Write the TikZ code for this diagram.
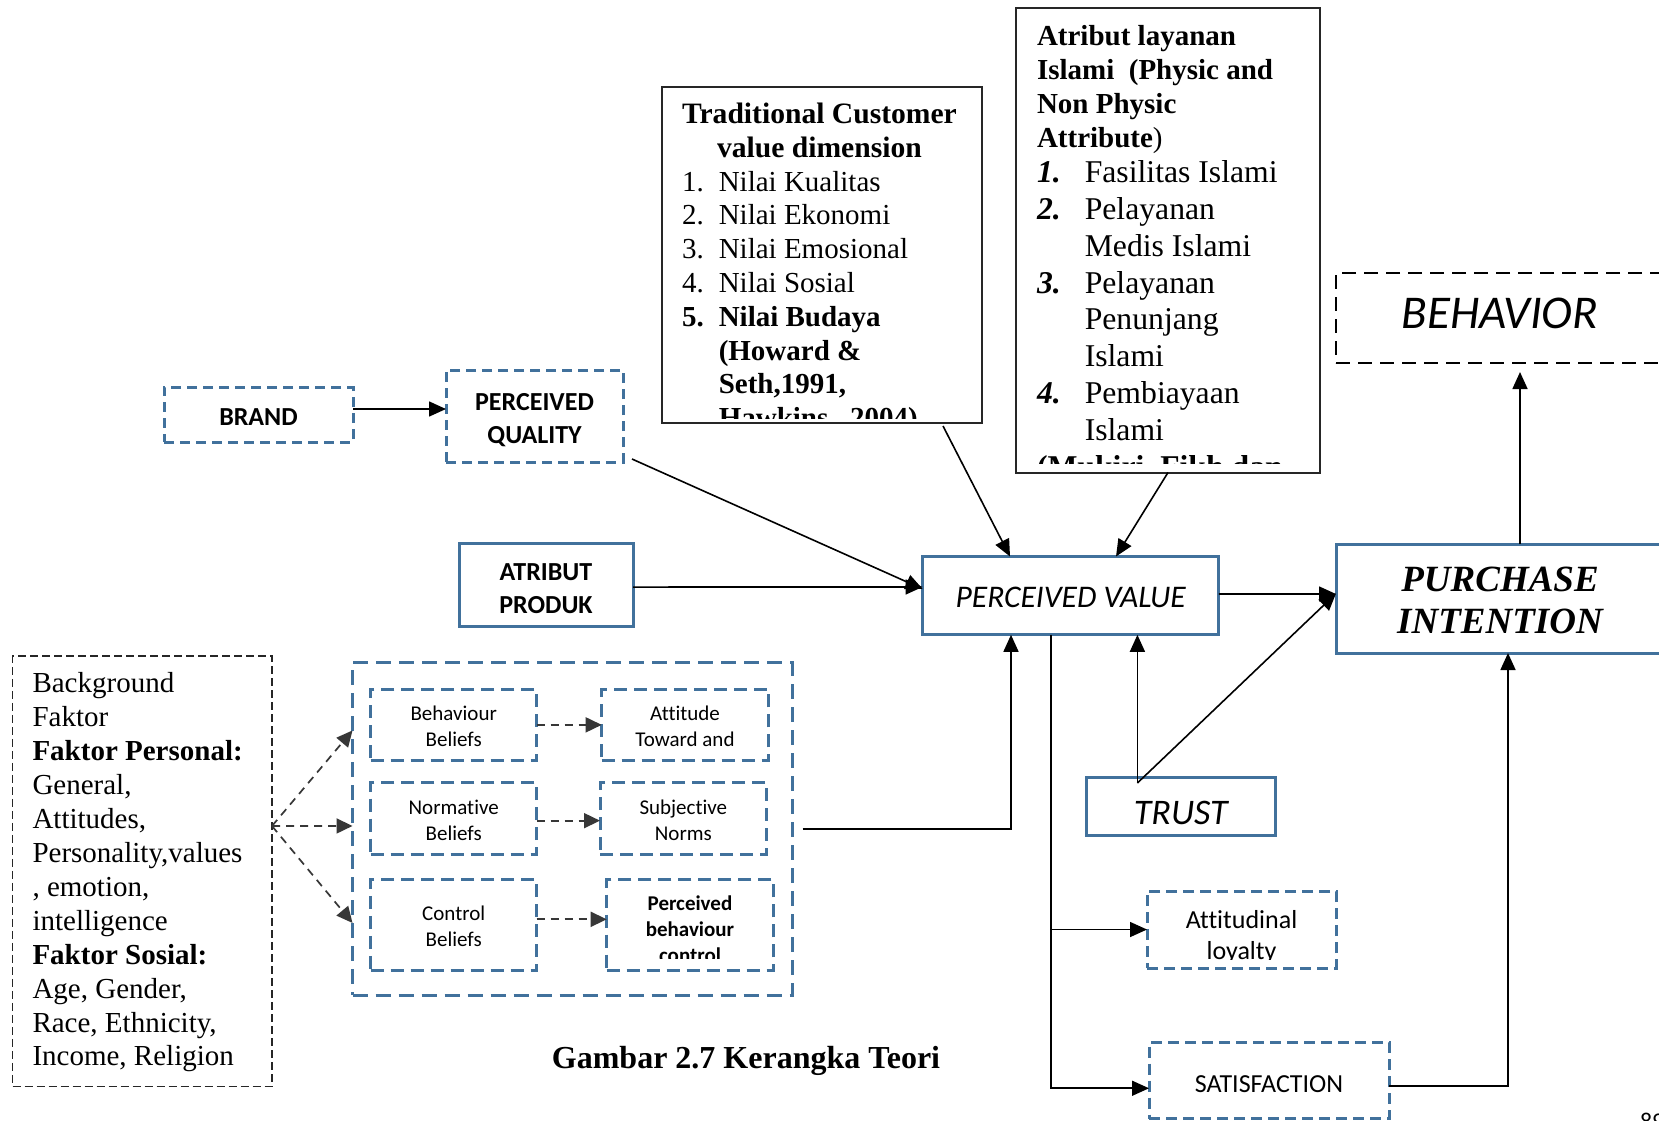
\documentclass[tikz,border=0pt]{standalone}
\usepackage{fontspec}
\setmainfont{Liberation Serif}
\newfontfamily\calibri[Ligatures=NoCommon]{Carlito}
\usetikzlibrary{arrows.meta}
\definecolor{boxblue}{RGB}{65,113,156}
\definecolor{linegray}{RGB}{55,55,55}
% centred stack of lines whose baseline is the first line
\newcommand\cstack[1]{\begin{tabular}[t]{@{}c@{}}#1\end{tabular}}
\begin{document}
\begin{tikzpicture}[x=1pt,y=-1pt,
  every node/.style={inner sep=0pt,outer sep=0pt},
  shapebox/.style={draw,anchor=north west,align=center},
  bluesolid/.style={shapebox,draw=boxblue,line width=3pt},
  bluedash/.style={shapebox,draw=boxblue,line width=3pt,dash pattern=on 12pt off 7pt},
  blackframe/.style={shapebox,draw=black!85,line width=2pt},
  conn/.style={draw=black,line width=1.6pt,-{Triangle[length=17pt,width=15pt]}},
  dconn/.style={draw=linegray,line width=1.7pt,dash pattern=on 8pt off 6pt,-{Triangle[length=16pt,width=15pt]}},
  calbold/.style={font=\calibri\bfseries\fontsize{26}{33}\selectfont},
  calsmall/.style={font=\calibri\fontsize{21}{26}\selectfont},
  txtserif/.style={font=\fontsize{29}{33.8}\selectfont},
]
\fill[white] (0,0) rectangle (1659,1120);
\useasboundingbox (0,0) rectangle (1659,1120);

% ---------- brand / quality / product attributes ----------
\node[bluedash,dash pattern=on 10pt off 6pt,minimum width=189pt,minimum height=55pt,calbold,
      text height=21pt,text depth=0pt] (brand) at (164,387) {BRAND};
\node[bluedash,dash pattern=on 10pt off 6pt,minimum width=177pt,minimum height=92pt,calbold,
      text height=0pt,text depth=11pt] (pq) at (446,370) {\cstack{PERCEIVED\\QUALITY}};
\node[bluesolid,minimum width=174pt,minimum height=82.5pt,calbold,
      text height=0pt,text depth=8pt] (ap) at (459,543.5) {\cstack{ATRIBUT\\PRODUK}};

% ---------- traditional customer value dimension ----------
\node[blackframe,minimum width=320pt,minimum height=336pt] (tcv) at (662,87) {};
\begin{scope}
  \clip (662,87) rectangle (982,418);
  \node[anchor=base west,txtserif] (tcvlist) at (682,123.5) {%
    \begin{tabular}[t]{@{}l@{\hspace{15pt}}l@{}}
      \multicolumn{2}{@{}c@{}}{\fontsize{29.6}{33.8}\selectfont\bfseries Traditional Customer}\\
      \multicolumn{2}{@{}c@{}}{\fontsize{29.6}{33.8}\selectfont\bfseries value dimension}\\
      1. & Nilai Kualitas\\
      2. & Nilai Ekonomi\\
      3. & Nilai Emosional\\
      4. & Nilai Sosial\\
      \textbf{5.} & \textbf{Nilai Budaya}\\
       & \textbf{(Howard \&}\\
       & \textbf{Seth,1991,}\\
       & \textbf{Hawkins , 2004)}
    \end{tabular}};
\end{scope}

% ---------- islamic service attributes ----------
\node[blackframe,minimum width=304pt,minimum height=465pt] (atr) at (1016,7.5) {};
\begin{scope}
  \clip (1016,7.5) rectangle (1320,463);
  \node[anchor=base west,font=\bfseries\fontsize{29}{34}\selectfont] (atrhead) at (1037,45) {%
    \begin{tabular}[t]{@{}l@{}}
      Atribut layanan\\
      Islami\ \ (Physic and\\
      Non Physic\\
      Attribute{\mdseries)}
    \end{tabular}};
  \node[anchor=base west,font=\fontsize{31.7}{36.8}\selectfont] (atrlist) at (1037,182.7) {%
    \begin{tabular}[t]{@{}l@{\hspace{24pt}}l@{}}
      \textbf{\textit{1.}} & Fasilitas Islami\\
      \textbf{\textit{2.}} & Pelayanan\\
       & Medis Islami\\
      \textbf{\textit{3.}} & Pelayanan\\
       & Penunjang\\
       & Islami\\
      \textbf{\textit{4.}} & Pembiayaan\\
       & Islami\\
      \multicolumn{2}{@{}l@{}}{\textbf{(Mukiri, Fikh dan}}
    \end{tabular}};
\end{scope}

% ---------- outcome boxes on the right ----------
\node[shapebox,draw=black,line width=2pt,dash pattern=on 14pt off 8pt,minimum width=328pt,minimum height=90pt,
      font=\calibri\itshape\fontsize{47}{56}\selectfont,text height=21.6pt,text depth=0pt] (beh) at (1336,273) {BEHAVIOR};
\node[bluesolid,minimum width=328pt,minimum height=109pt,font=\bfseries\itshape\fontsize{37}{42}\selectfont,
      text height=0pt,text depth=15pt] (pi) at (1336,544) {\cstack{PURCHASE\\INTENTION}};
\node[bluesolid,minimum width=296.2pt,minimum height=78.3pt,font=\calibri\itshape\fontsize{31.5}{38}\selectfont,
      text height=22.7pt,text depth=0pt] (pv) at (922.6,556.5) {PERCEIVED VALUE};
\node[bluesolid,minimum width=188.4pt,minimum height=58.2pt,font=\calibri\itshape\fontsize{36}{44}\selectfont,
      text height=36pt,text depth=0pt] (trust) at (1086.6,777.6) {TRUST};

\node[bluedash,dash pattern=on 11pt off 6pt,minimum width=189pt,minimum height=77pt] (att) at (1147,891) {};
\begin{scope}
  \clip (1147,891) rectangle (1336,959);
  \node[anchor=base,font=\calibri\fontsize{26}{31}\selectfont] (atttext) at (1241.5,928.5) {\cstack{Attitudinal\\loyalty}};
\end{scope}
\node[bluedash,dash pattern=on 11pt off 6pt,minimum width=240pt,minimum height=76.5pt,
      font=\calibri\fontsize{26}{31}\selectfont,text height=23.5pt,text depth=0pt] (sat) at (1149,1042) {SATISFACTION};

% ---------- background factors ----------
\node[shapebox,draw=black!85,line width=1.5pt,dash pattern=on 8pt off 4pt,minimum width=259.3pt,minimum height=430.6pt] (bg) at (12.7,656) {};
\node[anchor=base west,font=\fontsize{29}{33.95}\selectfont] (bgtext) at (32.5,692.5) {%
  \begin{tabular}[t]{@{}l@{}}
    Background\\
    Faktor\\
    \textbf{Faktor Personal:}\\
    General,\\
    Attitudes,\\
    Personality,values\\
    , emotion,\\
    intelligence\\
    \textbf{Faktor Sosial:}\\
    Age, Gender,\\
    Race, Ethnicity,\\
    Income, Religion
  \end{tabular}};

% ---------- theory of planned behaviour block ----------
\node[bluedash,dash pattern=on 15pt off 8pt,minimum width=439.5pt,minimum height=332.3pt] (tpb) at (352.5,662.7) {};
\node[bluedash,dash pattern=on 13pt off 7pt,minimum width=166pt,minimum height=71.7pt,calsmall,
      text height=0pt,text depth=9.7pt] (bb) at (370.7,689) {\cstack{Behaviour\\Beliefs}};
\node[bluedash,dash pattern=on 13pt off 7pt,minimum width=166.6pt,minimum height=71.7pt,calsmall,
      text height=0pt,text depth=9.7pt] (atb) at (601.7,689) {\cstack{Attitude\\Toward and}};
\node[bluedash,dash pattern=on 13pt off 7pt,minimum width=166pt,minimum height=71.7pt,calsmall,
      text height=0pt,text depth=8.3pt] (nb) at (370.7,782.3) {\cstack{Normative\\Beliefs}};
\node[bluedash,dash pattern=on 13pt off 7pt,minimum width=166.7pt,minimum height=71.7pt,calsmall,
      text height=0pt,text depth=8.3pt] (sn) at (600,782.3) {\cstack{Subjective\\Norms}};
\node[bluedash,dash pattern=on 13pt off 7pt,minimum width=166pt,minimum height=91.4pt,calsmall,
      text height=0pt,text depth=10pt] (cb) at (370.7,879.3) {\cstack{Control\\Beliefs}};
\node[bluedash,dash pattern=on 13pt off 7pt,minimum width=166.6pt,minimum height=91.4pt] (pbc) at (606.7,879.3) {};
\begin{scope}
  \clip (606.7,879.3) rectangle (773.3,958.3);
  \node[anchor=base,font=\calibri\bfseries\fontsize{21}{26}\selectfont] (pbctext) at (690,910) {\cstack{Perceived\\behaviour\\control}};
\end{scope}

% ---------- caption and page number ----------
\node[anchor=base,font=\bfseries\fontsize{32}{38}\selectfont] (caption) at (746,1068) {Gambar 2.7 Kerangka Teori};
\node[anchor=base west,font=\calibri\fontsize{24}{29}\selectfont] (pageno) at (1640,1129) {89};

% ---------- connectors ----------
\coordinate (pvd) at ([xshift=-19.7pt]pv.south);
\coordinate (trs) at ([xshift=-43.4pt,yshift=-5.4pt]trust.north);

\draw[conn] ([yshift=5.5pt]brand.east) -- ([yshift=7pt]pq.west);
\draw[conn] ([xshift=9pt,yshift=3pt]pq.south east) -- ([yshift=6.7pt]pv.west);
\draw[conn] ([yshift=-2.3pt]ap.east) -- ([yshift=8.7pt]pv.west);
\draw[conn] ([xshift=121pt,yshift=-3pt]tcv.south) -- ([xshift=-60.7pt]pv.north);
\draw[conn] (atr.south) -- ([xshift=45.3pt]pv.north);
\draw[conn] ([xshift=10.7pt]tpb.east) -| ([xshift=-59.7pt]pv.south);
\draw[conn] (trs) -- (trs |- pv.south);
\draw[conn] (trs) -- ([yshift=5pt]pi.west);
\draw[conn] ([yshift=1.7pt]pv.east) -- ([yshift=4.5pt]pi.west);
\draw[conn] ([xshift=20pt]pi.north) -- ([xshift=20pt,yshift=-9pt]beh.south);
\draw[conn] (pvd) |- ([yshift=-8pt]sat.west);
\draw[conn] (pvd |- att.west) -- (att.west);
\draw[conn] ([yshift=-5.5pt]sat.east) -| ([xshift=8pt]pi.south);

\draw[dconn] (bb.east) -- (atb.west);
\draw[dconn] ([yshift=-2.5pt]nb.east) -- ([yshift=-2.5pt]sn.west);
\draw[dconn] ([yshift=5.7pt]cb.east) -- ([yshift=5.7pt]pbc.west);

\coordinate (bgo) at ([yshift=45.3pt]bg.east);
\draw[dconn] (bgo) -- ([yshift=98.4pt]tpb.west);
\draw[dconn] (bgo) -- ([yshift=2.9pt]tpb.west);
\draw[dconn] (bgo) -- ([yshift=-94.1pt]tpb.west);
\end{tikzpicture}
\end{document}
